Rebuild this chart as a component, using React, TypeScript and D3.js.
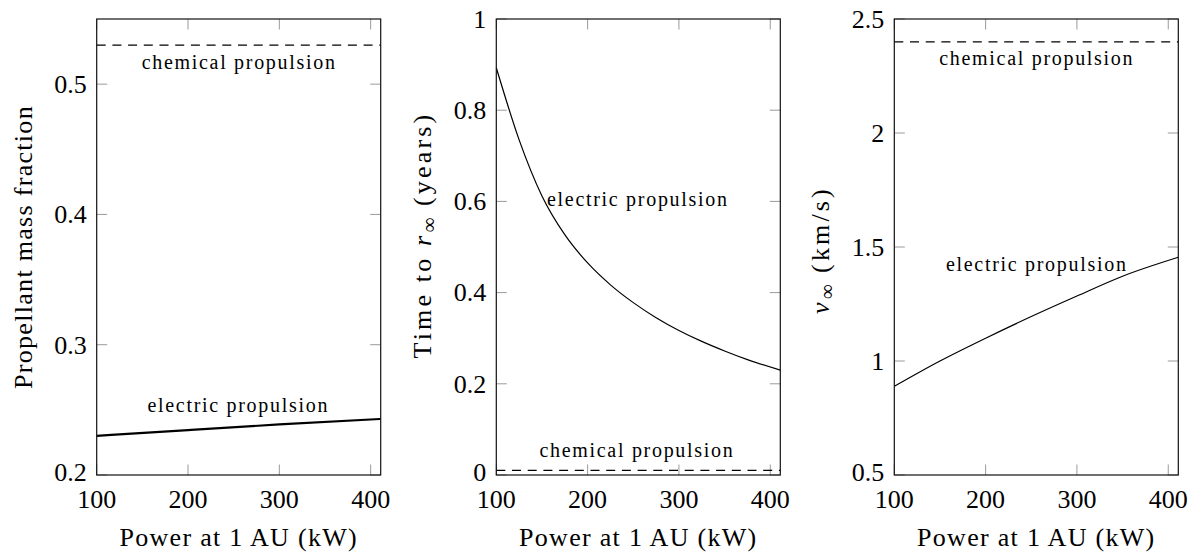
import React from "react";
import * as d3 from "d3";

// ---------- data ----------
const xTicks = [100, 200, 300, 400];
const xMin = 100;
const xMax = 411;

// Panel 1: propellant mass fraction
const massPower = [100, 200, 300, 411];
const massElectric = [0.23, 0.2345, 0.2388, 0.243];
const massChemical = 0.53;
const massYTicks = [0.2, 0.3, 0.4, 0.5];
const massYDomain = [0.2, 0.55];

// Panel 2: time to r_inf (years)
const timePower = [100, 125, 150, 175, 200, 225, 250, 275, 300, 325, 350, 375, 411];
const timeElectric = [0.893, 0.735, 0.612, 0.527, 0.465, 0.417, 0.378, 0.345, 0.317, 0.293, 0.272, 0.253, 0.23];
const timeChemical = 0.01;
const timeYTicks = [0, 0.2, 0.4, 0.6, 0.8, 1];
const timeYDomain = [0, 1];

// Panel 3: v_inf (km/s)
const vinfPower = [100, 150, 200, 250, 300, 350, 411];
const vinfElectric = [0.889, 1.0, 1.1, 1.195, 1.285, 1.372, 1.455];
const vinfChemical = 2.4;
const vinfYTicks = [0.5, 1, 1.5, 2, 2.5];
const vinfYDomain = [0.5, 2.5];

const annotationChemical = "chemical propulsion";
const annotationElectric = "electric propulsion";
const xTitle = "Power at 1 AU (kW)";

// ---------- layout ----------
const FONT = "'Liberation Serif', 'DejaVu Serif', serif";
const TOP = 19;
const BOTTOM = 475;
const PW = 284;
const TICK = 10.5;

type PanelProps = {
  left: number;
  yDomain: number[];
  yTicks: number[];
  power: number[];
  electric: number[];
  chemical: number;
  electricWidth: number;
  yLabel: React.ReactNode;
  yLabelCenter: number;
  yLabelLength?: number;
  chemLabel: [number, number];
  elecLabel: [number, number];
};

const baseText: React.CSSProperties = { fontFamily: FONT };

function Panel(p: PanelProps) {
  const x = d3.scaleLinear().domain([xMin, xMax]).range([p.left, p.left + PW]);
  const y = d3.scaleLinear().domain(p.yDomain).range([BOTTOM, TOP]);
  const line = d3
    .line<[number, number]>()
    .x((d) => x(d[0]))
    .y((d) => y(d[1]))
    .curve(d3.curveMonotoneX);
  const elecPts: [number, number][] = p.power.map((v, i) => [v, p.electric[i]]);
  const chemPts: [number, number][] = [
    [xMin, p.chemical],
    [xMax, p.chemical],
  ];
  const right = p.left + PW;
  return (
    <g>
      {xTicks.map((t) => (
        <g key={"xt" + t} stroke="#9a9a9a" strokeWidth={1}>
          <line x1={x(t)} x2={x(t)} y1={BOTTOM} y2={BOTTOM - TICK} />
          <line x1={x(t)} x2={x(t)} y1={TOP} y2={TOP + TICK} />
        </g>
      ))}
      {p.yTicks.map((t) => (
        <g key={"yt" + t} stroke="#9a9a9a" strokeWidth={1}>
          <line x1={p.left} x2={p.left + TICK} y1={y(t)} y2={y(t)} />
          <line x1={right} x2={right - TICK} y1={y(t)} y2={y(t)} />
        </g>
      ))}
      <path d={line(chemPts) || ""} fill="none" stroke="#000" strokeWidth={1.2} strokeDasharray="9 6.7" />
      <path d={line(elecPts) || ""} fill="none" stroke="#000" strokeWidth={p.electricWidth} />
      <rect x={p.left} y={TOP} width={PW} height={BOTTOM - TOP} fill="none" stroke="#111" strokeWidth={1.2} />
      {xTicks.map((t) => (
        <text key={"xl" + t} x={x(t)} y={BOTTOM + 33} textAnchor="middle" fontSize={26} style={baseText} fill="#000">
          {String(t)}
        </text>
      ))}
      {p.yTicks.map((t) => (
        <text key={"yl" + t} x={p.left - 10} y={y(t) - (t === p.yDomain[0] ? 3 : 0)} dy="0.34em" textAnchor="end" fontSize={26} style={baseText} fill="#000">
          {String(t)}
        </text>
      ))}
      <text x={x(p.chemLabel[0])} y={y(p.chemLabel[1])} textAnchor="middle" fontSize={20} letterSpacing={1.7} style={baseText} fill="#000">
        {annotationChemical}
      </text>
      <text x={x(p.elecLabel[0])} y={y(p.elecLabel[1])} textAnchor="middle" fontSize={20} letterSpacing={1.7} style={baseText} fill="#000">
        {annotationElectric}
      </text>
      <text x={(p.left + right) / 2} y={BOTTOM + 71} textAnchor="middle" fontSize={26} letterSpacing={1.3} style={baseText} fill="#000">
        {xTitle}
      </text>
      <text
        transform={`translate(${p.left - 65},${p.yLabelCenter}) rotate(-90)`}
        textAnchor="middle"
        fontSize={26}
        letterSpacing={1.3}
        textLength={p.yLabelLength}
        lengthAdjust={p.yLabelLength ? "spacing" : undefined}
        style={baseText}
        fill="#000"
      >
        {p.yLabel}
      </text>
    </g>
  );
}

export default function App() {
  return (
    <svg
      width={1192}
      height={555}
      viewBox="0 0 1192 555"
      style={{ position: "absolute", left: 0, top: 0, background: "#fff", fontFamily: FONT }}
    >
      <rect x={0} y={0} width={1192} height={555} fill="#fff" />
      <Panel
        left={96.7}
        yDomain={massYDomain}
        yTicks={massYTicks}
        power={massPower}
        electric={massElectric}
        chemical={massChemical}
        electricWidth={2.2}
        yLabel="Propellant mass fraction"
        yLabelCenter={247}
        chemLabel={[256, 0.512]}
        elecLabel={[255, 0.2484]}
      />
      <Panel
        left={496.3}
        yDomain={timeYDomain}
        yTicks={timeYTicks}
        power={timePower}
        electric={timeElectric}
        chemical={timeChemical}
        electricWidth={1.2}
        yLabel={
          <>
            <tspan>Time to </tspan>
            <tspan fontStyle="italic">r</tspan>
            <tspan fontSize={21} dy={5} letterSpacing={0}>∞</tspan>
            <tspan dy={-5}> (years)</tspan>
          </>
        }
        yLabelCenter={236}
        yLabelLength={245}
        chemLabel={[254, 0.04]}
        elecLabel={[255, 0.589]}
      />
      <Panel
        left={894.3}
        yDomain={vinfYDomain}
        yTicks={vinfYTicks}
        power={vinfPower}
        electric={vinfElectric}
        chemical={vinfChemical}
        electricWidth={1.2}
        yLabel={
          <>
            <tspan fontStyle="italic">v</tspan>
            <tspan fontSize={21} dy={5} letterSpacing={0}>∞</tspan>
            <tspan dy={-5}> (km/s)</tspan>
          </>
        }
        yLabelCenter={251}
        yLabelLength={126}
        chemLabel={[256, 2.3]}
        elecLabel={[256, 1.395]}
      />
    </svg>
  );
}
